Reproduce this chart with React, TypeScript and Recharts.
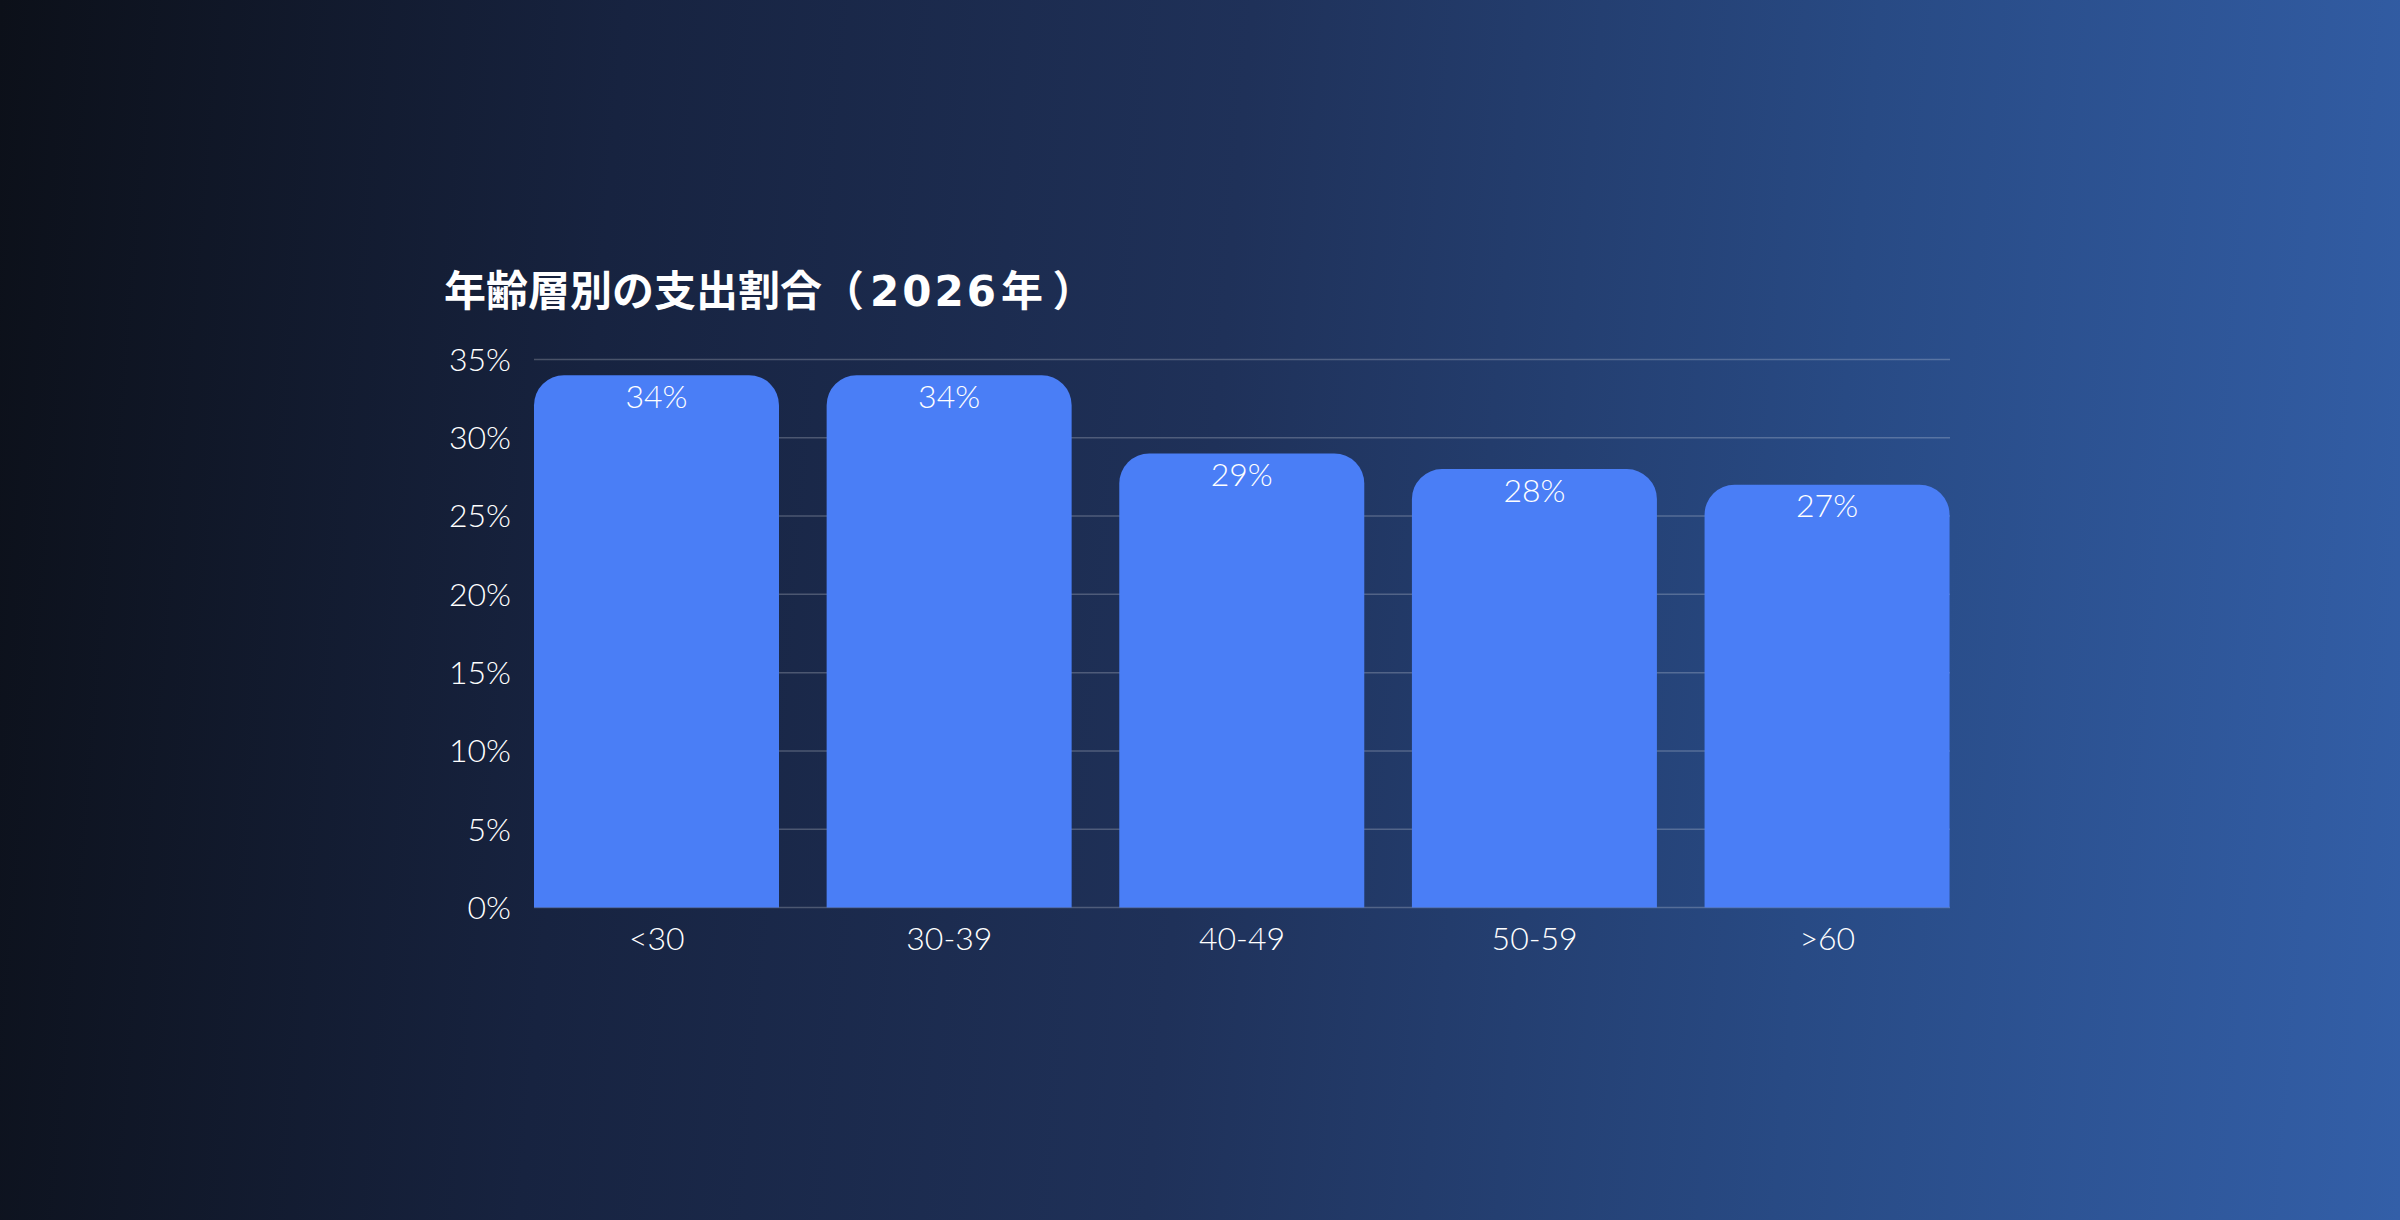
import React from 'react';
import {
  BarChart,
  Bar,
  XAxis,
  YAxis,
  CartesianGrid,
  LabelList,
} from 'recharts';

const ageGroups = ['<30', '30-39', '40-49', '50-59', '>60'];
const shares = [34, 34, 29, 28, 27];
const yTicks = [0, 5, 10, 15, 20, 25, 30, 35];

const data = ageGroups.map((group, i) => ({ group, share: shares[i] }));

const TEXT_FONT = "Lato, 'Noto Sans', sans-serif";

export default function App() {
  return (
    <div
      style={{
        position: 'absolute',
        left: 0,
        top: 0,
        width: 2400,
        height: 1220,
        overflow: 'hidden',
        background:
          'linear-gradient(95deg, #0c1019 0%, #172340 25%, #1f3159 50%, #284a84 75%, #335fa8 100%)',
      }}
    >
      <div
        style={{
          position: 'absolute',
          left: 444,
          top: 267,
          fontFamily: "'Noto Sans CJK JP', sans-serif",
          fontWeight: 700,
          fontSize: 42,
          lineHeight: 1,
          color: '#ffffff',
          whiteSpace: 'nowrap',
        }}
      >
        年齢層別の支出割合（
        <span
          style={{
            fontFamily: "'DejaVu Sans', sans-serif",
            letterSpacing: 3,
            margin: '0 2px 0 6px',
          }}
        >
          2026
        </span>
        年 ）
      </div>
      <BarChart
        width={2400}
        height={1220}
        data={data}
        margin={{ top: 359.5, right: 450, bottom: 252.5, left: 0 }}
        barCategoryGap={23.6}
      >
        <CartesianGrid
          vertical={false}
          stroke="rgba(255,255,255,0.22)"
          strokeWidth={1.5}
        />
        <XAxis
          dataKey="group"
          height={60}
          axisLine={false}
          tickLine={false}
          tickSize={0}
          tickMargin={20}
          padding={{ left: -23.6, right: -23.6 }}
          tick={{ fill: '#ffffff', fontSize: 32, fontFamily: TEXT_FONT, fontWeight: 300 }}
        />
        <YAxis
          width={534}
          domain={[0, 35]}
          ticks={yTicks}
          tickFormatter={(v) => `${v}%`}
          axisLine={false}
          tickLine={false}
          tickSize={0}
          tickMargin={23}
          tick={{ fill: '#ffffff', fontSize: 32, fontFamily: TEXT_FONT, fontWeight: 300 }}
        />
        <Bar
          dataKey="share"
          fill="#4a7ef6"
          radius={[30, 30, 0, 0]}
          isAnimationActive={false}
        >
          <LabelList
            dataKey="share"
            position="insideTop"
            offset={10}
            formatter={(v) => `${v}%`}
            fill="#ffffff"
            style={{ fontSize: 32, fontFamily: TEXT_FONT, fontWeight: 300 }}
          />
        </Bar>
      </BarChart>
    </div>
  );
}
